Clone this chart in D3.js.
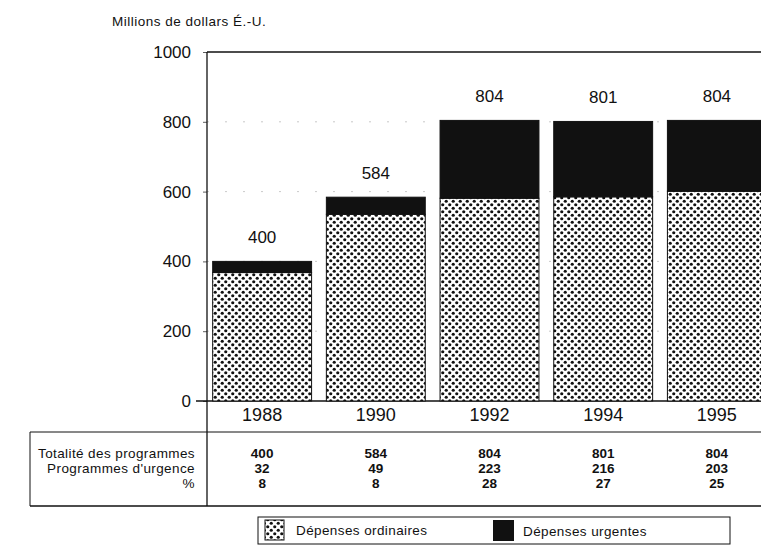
<!DOCTYPE html>
<html>
<head>
<meta charset="utf-8">
<script src="https://cdn.jsdelivr.net/npm/d3@7"></script>
<style>
  body { margin: 0; background: #fff; }
  svg { font-family: "Liberation Sans", Arial, sans-serif; }
</style>
</head>
<body>
<svg id="chart" width="761" height="546"></svg>
<script>
// data
const years = ["1988", "1990", "1992", "1994", "1995"];
const totals = [400, 584, 804, 801, 804];
const urgent = [32, 49, 223, 216, 203];
const percent = [8, 8, 28, 27, 25];
const yTicks = [0, 200, 400, 600, 800, 1000];
const rowLabels = ["Totalité des programmes", "Programmes d'urgence", "%"];

let svg = d3.select("#chart");

// dotted pattern for the ordinary spending
let defs = svg.append("defs");
let pat = defs.append("pattern")
    .attr("id", "dots")
    .attr("patternUnits", "userSpaceOnUse")
    .attr("width", 7).attr("height", 7);
pat.append("rect").attr("width", 7).attr("height", 7).attr("fill", "#fff");
pat.append("circle").attr("cx", 1.75).attr("cy", 1.75).attr("r", 1.6).attr("fill", "#111");
pat.append("circle").attr("cx", 5.25).attr("cy", 5.25).attr("r", 1.6).attr("fill", "#111");

let x = d3.scaleBand()
    .domain(years)
    .range([207, 772])
    .paddingInner(0.13)
    .paddingOuter(0.05);

let y = d3.scaleLinear()
    .domain([0, 1000])
    .range([401, 52]);

// faint grid
svg.append("g")
    .selectAll("line")
    .data(yTicks.filter(d => d > 0 && d < 1000))
    .enter().append("line")
    .attr("x1", 207).attr("x2", 761)
    .attr("y1", d => y(d)).attr("y2", d => y(d))
    .attr("stroke", "#bbb")
    .attr("stroke-width", 0.8)
    .attr("stroke-dasharray", "2,16");

// frame
svg.append("line").attr("x1", 207).attr("x2", 761).attr("y1", y(1000)).attr("y2", y(1000))
    .attr("stroke", "#111").attr("stroke-width", 1.5);

// y axis
let yAxis = svg.append("g")
    .attr("transform", "translate(207,0)")
    .call(d3.axisLeft(y).tickValues(yTicks).tickFormat(d3.format("d")).tickSize(4).tickPadding(12));
yAxis.select(".domain").remove();
yAxis.selectAll(".tick line").attr("stroke", "#333").attr("stroke-width", 0.8);
yAxis.selectAll("text").attr("font-size", 17).attr("fill", "#111");

svg.append("line").attr("x1", 207).attr("x2", 207).attr("y1", y(1000)).attr("y2", 506)
    .attr("stroke", "#111").attr("stroke-width", 1.3);
svg.append("line").attr("x1", 196).attr("x2", 761).attr("y1", y(0)).attr("y2", y(0))
    .attr("stroke", "#111").attr("stroke-width", 1.3);

svg.append("text")
    .attr("x", 112).attr("y", 26)
    .attr("font-size", 13.5)
    .attr("letter-spacing", 0.5)
    .attr("fill", "#111")
    .text("Millions de dollars É.-U.");

// bars
let bars = svg.append("g").selectAll("g")
    .data(years)
    .enter().append("g");

bars.append("rect")
    .attr("x", d => x(d))
    .attr("width", x.bandwidth())
    .attr("y", (d, i) => y(totals[i] - urgent[i]))
    .attr("height", (d, i) => y(0) - y(totals[i] - urgent[i]))
    .attr("fill", "url(#dots)")
    .attr("stroke", "#111")
    .attr("stroke-width", 1);

bars.append("rect")
    .attr("x", d => x(d))
    .attr("width", x.bandwidth())
    .attr("y", (d, i) => y(totals[i]))
    .attr("height", (d, i) => y(totals[i] - urgent[i]) - y(totals[i]))
    .attr("fill", "#111")
    .attr("stroke", "#111")
    .attr("stroke-width", 1);

bars.append("text")
    .attr("x", d => x(d) + x.bandwidth() / 2)
    .attr("y", (d, i) => y(totals[i]) - 18)
    .attr("text-anchor", "middle")
    .attr("font-size", 17)
    .attr("fill", "#111")
    .text((d, i) => totals[i]);

// year labels
bars.append("text")
    .attr("x", d => x(d) + x.bandwidth() / 2)
    .attr("y", 421)
    .attr("text-anchor", "middle")
    .attr("font-size", 18)
    .attr("fill", "#111")
    .text(d => d);

// table
let table = svg.append("g");
table.append("line").attr("x1", 30).attr("x2", 761).attr("y1", 432).attr("y2", 432)
    .attr("stroke", "#111").attr("stroke-width", 1);
table.append("line").attr("x1", 30).attr("x2", 761).attr("y1", 506).attr("y2", 506)
    .attr("stroke", "#111").attr("stroke-width", 1.3);
table.append("line").attr("x1", 30).attr("x2", 30).attr("y1", 432).attr("y2", 506)
    .attr("stroke", "#111").attr("stroke-width", 1);

let rowY = [458, 473, 488];
table.selectAll(".rowlabel")
    .data(rowLabels)
    .enter().append("text")
    .attr("class", "rowlabel")
    .attr("x", 195)
    .attr("y", (d, i) => rowY[i])
    .attr("text-anchor", "end")
    .attr("font-size", 13.5)
    .attr("letter-spacing", 0.4)
    .attr("fill", "#111")
    .text(d => d);

let rows = [totals, urgent, percent];
rows.forEach(function (row, r) {
    table.selectAll(".cell" + r)
        .data(row)
        .enter().append("text")
        .attr("class", "cell" + r)
        .attr("x", (d, i) => x(years[i]) + x.bandwidth() / 2)
        .attr("y", rowY[r])
        .attr("text-anchor", "middle")
        .attr("font-size", 13.5)
        .attr("font-weight", "bold")
        .attr("fill", "#111")
        .text(d => d);
});

// legend
let legend = svg.append("g");
legend.append("rect")
    .attr("x", 258).attr("y", 517).attr("width", 472).attr("height", 27)
    .attr("fill", "none").attr("stroke", "#111").attr("stroke-width", 1);
legend.append("rect")
    .attr("x", 265).attr("y", 520).attr("width", 19).attr("height", 20)
    .attr("fill", "url(#dots)").attr("stroke", "#111");
legend.append("text")
    .attr("x", 296).attr("y", 535)
    .attr("font-size", 13.5).attr("letter-spacing", 0.4).attr("fill", "#111")
    .text("Dépenses ordinaires");
legend.append("rect")
    .attr("x", 493).attr("y", 520).attr("width", 21).attr("height", 21)
    .attr("fill", "#111");
legend.append("text")
    .attr("x", 523).attr("y", 536)
    .attr("font-size", 13.5).attr("letter-spacing", 0.4).attr("fill", "#111")
    .text("Dépenses urgentes");
</script>
</body>
</html>
